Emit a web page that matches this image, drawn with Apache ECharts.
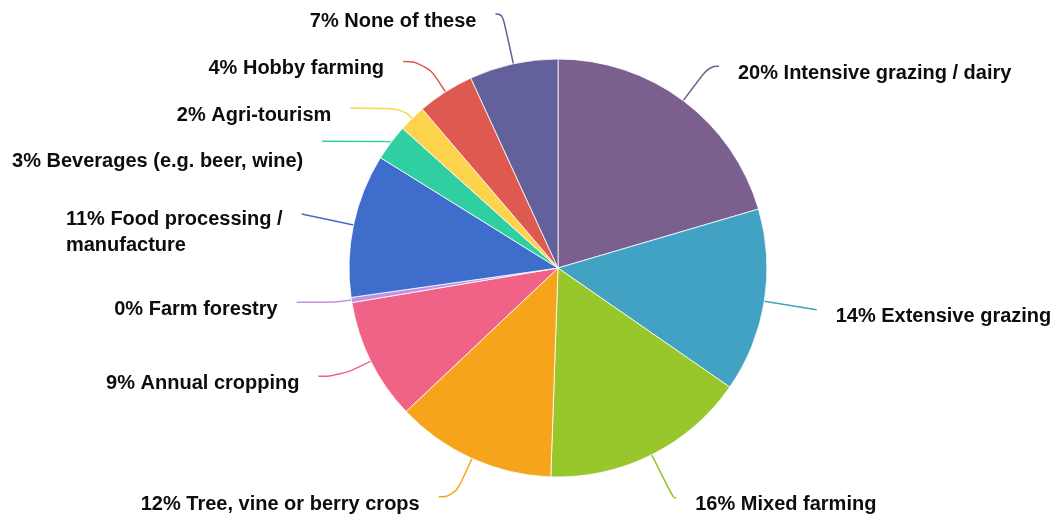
<!DOCTYPE html>
<html>
<head>
<meta charset="utf-8">
<style>
  html, body { margin: 0; padding: 0; background: #fff; }
  #chart { width: 1061px; height: 523px; }
</style>
<script src="https://cdn.jsdelivr.net/npm/echarts@6/dist/echarts.min.js"></script>
</head>
<body>
<div id="chart"></div>
<script>
// Share of respondents by main farm / business activity (percent)
const categories = [
  'Intensive grazing / dairy',
  'Extensive grazing',
  'Mixed farming',
  'Tree, vine or berry crops',
  'Annual cropping',
  'Farm forestry',
  'Food processing / manufacture',
  'Beverages (e.g. beer, wine)',
  'Agri-tourism',
  'Hobby farming',
  'None of these'
];
const shares = [20.45, 14.2, 15.9, 12.4, 9.4, 0.4, 11.1, 2.8, 2.1, 4.4, 6.85];
const colors = [
  '#7b5f8f', '#41a2c3', '#97c72a', '#f5a41c', '#f06386', '#c391e0',
  '#3e6dcc', '#2fcfa1', '#fcd34b', '#de5a50', '#62619c'
];

// Leader line lengths [radial, horizontal] and downward text shift per slice
const leaderLengths = [
  [43, 10], [53, 0], [48, 3], [42, 16], [34, 22], [15, 40],
  [53, 0], [2, 67], [14, 52], [36, 23], [51, 7]
];
const textShift = [7, 7, 7, 8, 7, 7, 18, 20, 7, 7, 7];

const FONT = 'Liberation Sans, Arial, Helvetica, sans-serif';
const pctText = v => Math.round(v) + '% ';

const chart = echarts.init(document.getElementById('chart'));
chart.setOption({
  animation: false,
  color: colors,
  series: [{
    type: 'pie',
    center: [558, 268],
    radius: 209,
    startAngle: 90,
    clockwise: true,
    avoidLabelOverlap: false,
    itemStyle: { borderColor: '#ffffff', borderWidth: 0.8 },
    label: {
      show: true,
      distanceToLabelLine: 19,
      formatter: p => {
        const text = pctText(p.value) + p.name;
        // long names wrap after the slash
        const lines = p.name.length > 28 ? text.replace(' / ', ' /\n').split('\n') : [text];
        return lines.map(s => '{t|' + s + '}').join('\n');
      },
      rich: {
        t: {
          fontFamily: FONT, fontWeight: 'bold', fontSize: 20,
          lineHeight: 26, color: '#0d0d0d', align: 'left'
        }
      }
    },
    labelLine: {
      show: true,
      smooth: 0.5,
      lineStyle: { width: 1.5 }
    },
    data: categories.map((name, i) => ({
      name: name,
      value: shares[i],
      label: { padding: [textShift[i], 0, -textShift[i], 0] },
      labelLine: { length: leaderLengths[i][0], length2: leaderLengths[i][1] }
    }))
  }]
});
</script>
</body>
</html>
